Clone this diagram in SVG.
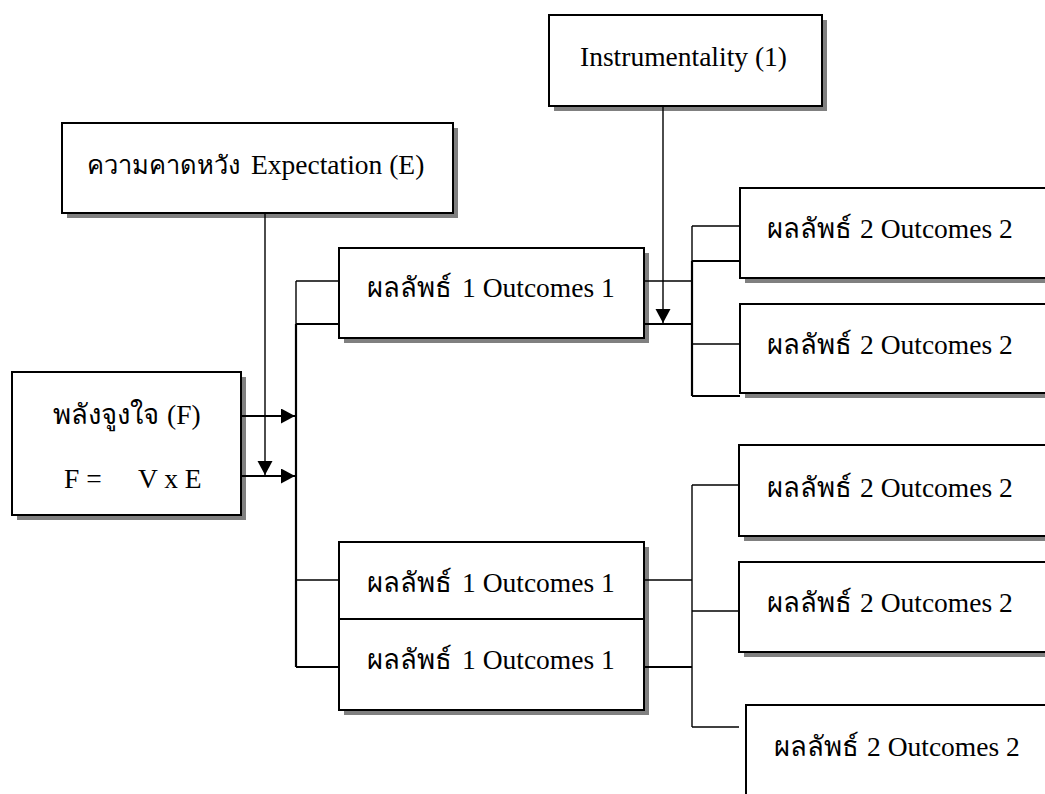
<svg xmlns="http://www.w3.org/2000/svg" width="1045" height="794" viewBox="0 0 1045 794">
<style>
.shadow{fill:#808080;stroke:none}
.box{fill:#fff;stroke:#000;stroke-width:2}
.t{font-family:"Liberation Serif","DejaVu Serif","Noto Sans",serif;font-size:27.5px;fill:#000}
.thin{stroke:#000;stroke-width:1.4;fill:none}
.thick{stroke:#000;stroke-width:2.2;fill:none}
</style>
<defs>
<marker id="arr" markerUnits="userSpaceOnUse" markerWidth="15" markerHeight="16" refX="14" refY="7.5" orient="auto">
<path d="M0,0 L14,7.5 L0,15 Z" fill="#000"/>
</marker>
</defs>
<rect width="1045" height="794" fill="#fff"/>

<g id="instrumentality">
<rect class="shadow" x="554" y="20" width="273" height="91"/>
<rect class="box" x="549" y="15" width="273" height="91"/>
<text class="t" x="580" y="66" font-size="28">Instrumentality (1)</text>
</g>

<g id="expectation">
<rect class="shadow" x="67" y="128" width="391" height="90"/>
<rect class="box" x="62" y="123" width="391" height="90"/>
<text class="t" x="87" y="174"><tspan font-size="25.5">ความคาดหวัง</tspan> <tspan x="251">Expectation (E)</tspan></text>
</g>

<g id="force">
<rect class="shadow" x="17" y="377" width="229" height="143"/>
<rect class="box" x="12" y="372" width="229" height="143"/>
<text class="t" x="53" y="424"><tspan>พลังจูงใจ</tspan> <tspan x="167">(F)</tspan></text>
<text class="t" x="64" y="488">F =</text>
<text class="t" x="138" y="488" font-size="20">V x E</text>
</g>

<g id="outcome1-top">
<rect class="shadow" x="344" y="253" width="305" height="90"/>
<rect class="box" x="339" y="248" width="305" height="90"/>
<text class="t" x="367" y="297"><tspan>ผลลัพธ์</tspan> <tspan x="462">1 Outcomes 1</tspan></text>
</g>

<g id="outcome1-bottom">
<rect class="shadow" x="344" y="547" width="305" height="168"/>
<rect class="box" x="339" y="542" width="305" height="168"/>
<line x1="339" y1="619" x2="644" y2="619" stroke="#000" stroke-width="2"/>
<text class="t" x="367" y="592"><tspan>ผลลัพธ์</tspan> <tspan x="462">1 Outcomes 1</tspan></text>
<text class="t" x="367" y="669"><tspan>ผลลัพธ์</tspan> <tspan x="462">1 Outcomes 1</tspan></text>
</g>

<g id="outcome2-a">
<rect class="shadow" x="745" y="193" width="320" height="90"/>
<rect class="box" x="740" y="188" width="320" height="90"/>
<text class="t" x="767" y="238"><tspan>ผลลัพธ์</tspan> <tspan x="860">2 Outcomes 2</tspan></text>
</g>

<g id="outcome2-b">
<rect class="shadow" x="745" y="309" width="320" height="89"/>
<rect class="box" x="740" y="304" width="320" height="89"/>
<text class="t" x="767" y="354"><tspan>ผลลัพธ์</tspan> <tspan x="860">2 Outcomes 2</tspan></text>
</g>

<g id="outcome2-c">
<rect class="shadow" x="744" y="450" width="320" height="91"/>
<rect class="box" x="739" y="445" width="320" height="91"/>
<text class="t" x="767" y="497"><tspan>ผลลัพธ์</tspan> <tspan x="860">2 Outcomes 2</tspan></text>
</g>

<g id="outcome2-d">
<rect class="shadow" x="744" y="567" width="320" height="90"/>
<rect class="box" x="739" y="562" width="320" height="90"/>
<text class="t" x="767" y="612"><tspan>ผลลัพธ์</tspan> <tspan x="860">2 Outcomes 2</tspan></text>
</g>

<g id="outcome2-e">
<rect class="shadow" x="751" y="710" width="320" height="100"/>
<rect class="box" x="746" y="705" width="320" height="100"/>
<text class="t" x="774" y="756"><tspan>ผลลัพธ์</tspan> <tspan x="867">2 Outcomes 2</tspan></text>
</g>

<g id="connectors">
<line class="thin" x1="265" y1="213" x2="265" y2="475" marker-end="url(#arr)"/>
<line class="thin" x1="663" y1="106" x2="663" y2="323" marker-end="url(#arr)"/>
<line class="thick" x1="241" y1="416" x2="295" y2="416" marker-end="url(#arr)"/>
<line class="thick" x1="241" y1="476" x2="295" y2="476" marker-end="url(#arr)"/>
<line class="thin" x1="296" y1="281" x2="296" y2="324"/>
<line class="thick" x1="296" y1="324" x2="296" y2="667"/>
<line class="thin" x1="296" y1="281" x2="339" y2="281"/>
<line class="thick" x1="296" y1="324" x2="339" y2="324"/>
<line class="thin" x1="296" y1="580" x2="339" y2="580"/>
<line class="thick" x1="296" y1="667" x2="339" y2="667"/>
<line class="thin" x1="644" y1="281" x2="692" y2="281"/>
<line class="thick" x1="644" y1="324" x2="692" y2="324"/>
<line class="thin" x1="692" y1="226" x2="692" y2="261"/>
<line class="thick" x1="692" y1="261" x2="692" y2="396"/>
<line class="thin" x1="692" y1="226" x2="740" y2="226"/>
<line class="thick" x1="692" y1="261" x2="740" y2="261"/>
<line class="thin" x1="692" y1="344" x2="740" y2="344"/>
<line class="thick" x1="692" y1="396" x2="740" y2="396"/>
<line class="thin" x1="644" y1="580" x2="692" y2="580"/>
<line class="thick" x1="644" y1="667" x2="692" y2="667"/>
<line class="thin" x1="692" y1="485" x2="692" y2="727"/>
<line class="thin" x1="692" y1="485" x2="739" y2="485"/>
<line class="thin" x1="692" y1="611" x2="739" y2="611"/>
<line class="thin" x1="692" y1="727" x2="739" y2="727"/>
</g>
</svg>
